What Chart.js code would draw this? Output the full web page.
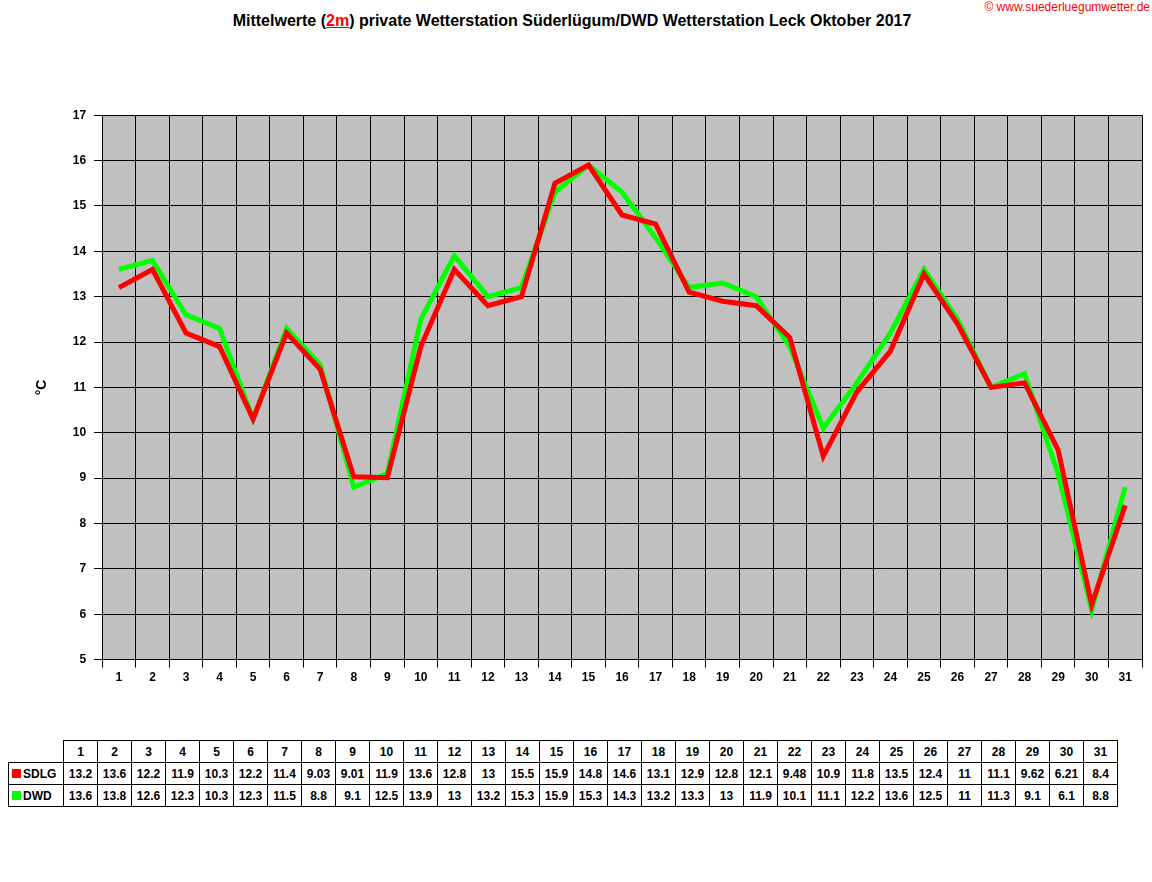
<!DOCTYPE html>
<html><head><meta charset="utf-8">
<script src="https://cdn.jsdelivr.net/npm/chart.js@4"></script>
<style>
body{margin:0;width:1152px;height:882px;background:#fff;font-family:Arial,"Liberation Sans",sans-serif;position:relative;overflow:hidden}
#title{position:absolute;top:12px;left:-4px;width:1152px;text-align:center;font-weight:bold;font-size:16px}
#title u{color:#f00}
#copy{position:absolute;top:0;right:2px;color:#f00;font-size:12px}
#wrap{position:absolute;left:0;top:100px;width:1152px;height:588px}
table{position:absolute;left:8px;top:740px;border-collapse:collapse;font-size:12px;font-weight:bold}
td{border:1px solid #000;height:21px;text-align:center;padding:0;width:33px}
td.h{width:54px;text-align:left;border:none}
tr:not(:first-child) td.h{border:1px solid #000}
.sw{display:inline-block;width:9px;height:9px;margin:0 2px 0 3px}
</style></head><body>
<div id="title">Mittelwerte (<u>2m</u>) private Wetterstation Süderlügum/DWD Wetterstation Leck Oktober 2017</div>
<div id="copy">© www.suederluegumwetter.de</div>
<div id="wrap"><canvas id="c"></canvas></div>
<table id="t"></table>
<script>
const days=[];for(let i=1;i<=31;i++)days.push(String(i));
const sdlg=[13.2,13.6,12.2,11.9,10.3,12.2,11.4,9.03,9.01,11.9,13.6,12.8,13,15.5,15.9,14.8,14.6,13.1,12.9,12.8,12.1,9.48,10.9,11.8,13.5,12.4,11,11.1,9.62,6.21,8.4];
const dwd=[13.6,13.8,12.6,12.3,10.3,12.3,11.5,8.8,9.1,12.5,13.9,13,13.2,15.3,15.9,15.3,14.3,13.2,13.3,13,11.9,10.1,11.1,12.2,13.6,12.5,11,11.3,9.1,6.1,8.8];
const t=document.getElementById('t');
let h='<tr><td class="h"></td>'+days.map(d=>'<td>'+d+'</td>').join('')+'</tr>';
h+='<tr><td class="h"><span class="sw" style="background:#f00"></span>SDLG</td>'+sdlg.map(v=>'<td>'+v+'</td>').join('')+'</tr>';
h+='<tr><td class="h"><span class="sw" style="background:#0f0"></span>DWD</td>'+dwd.map(v=>'<td>'+v+'</td>').join('')+'</tr>';
t.innerHTML=h;
const bg={id:'bg',beforeDraw(c){const a=c.chartArea,x=c.ctx;x.save();x.fillStyle='#c0c0c0';x.fillRect(a.left,a.top,a.right-a.left,a.bottom-a.top);x.restore();}};
new Chart(document.getElementById('c'),{type:'line',plugins:[bg],
data:{labels:days,datasets:[
{label:'SDLG',data:sdlg,borderColor:'#f00',borderWidth:5,pointRadius:0,tension:0},
{label:'DWD',data:dwd,borderColor:'#0f0',borderWidth:5,pointRadius:0,tension:0}]},
options:{responsive:true,maintainAspectRatio:false,animation:false,
layout:{padding:{left:20,right:10,top:10,bottom:0}},
plugins:{legend:{display:false},tooltip:{enabled:false}},
scales:{
x:{offset:true,grid:{color:'#000',offset:true,drawTicks:true},border:{color:'#000'},ticks:{color:'#000',font:{family:'Arial',weight:'bold',size:12}}},
y:{min:5,max:17,ticks:{stepSize:1,color:'#000',padding:8,font:{family:'Arial',weight:'bold',size:12}},grid:{color:'#000'},border:{color:'#000'},
title:{display:true,text:'°C',color:'#000',padding:14,font:{family:'Arial',weight:'bold',size:14}}}}}});
</script></body></html>
